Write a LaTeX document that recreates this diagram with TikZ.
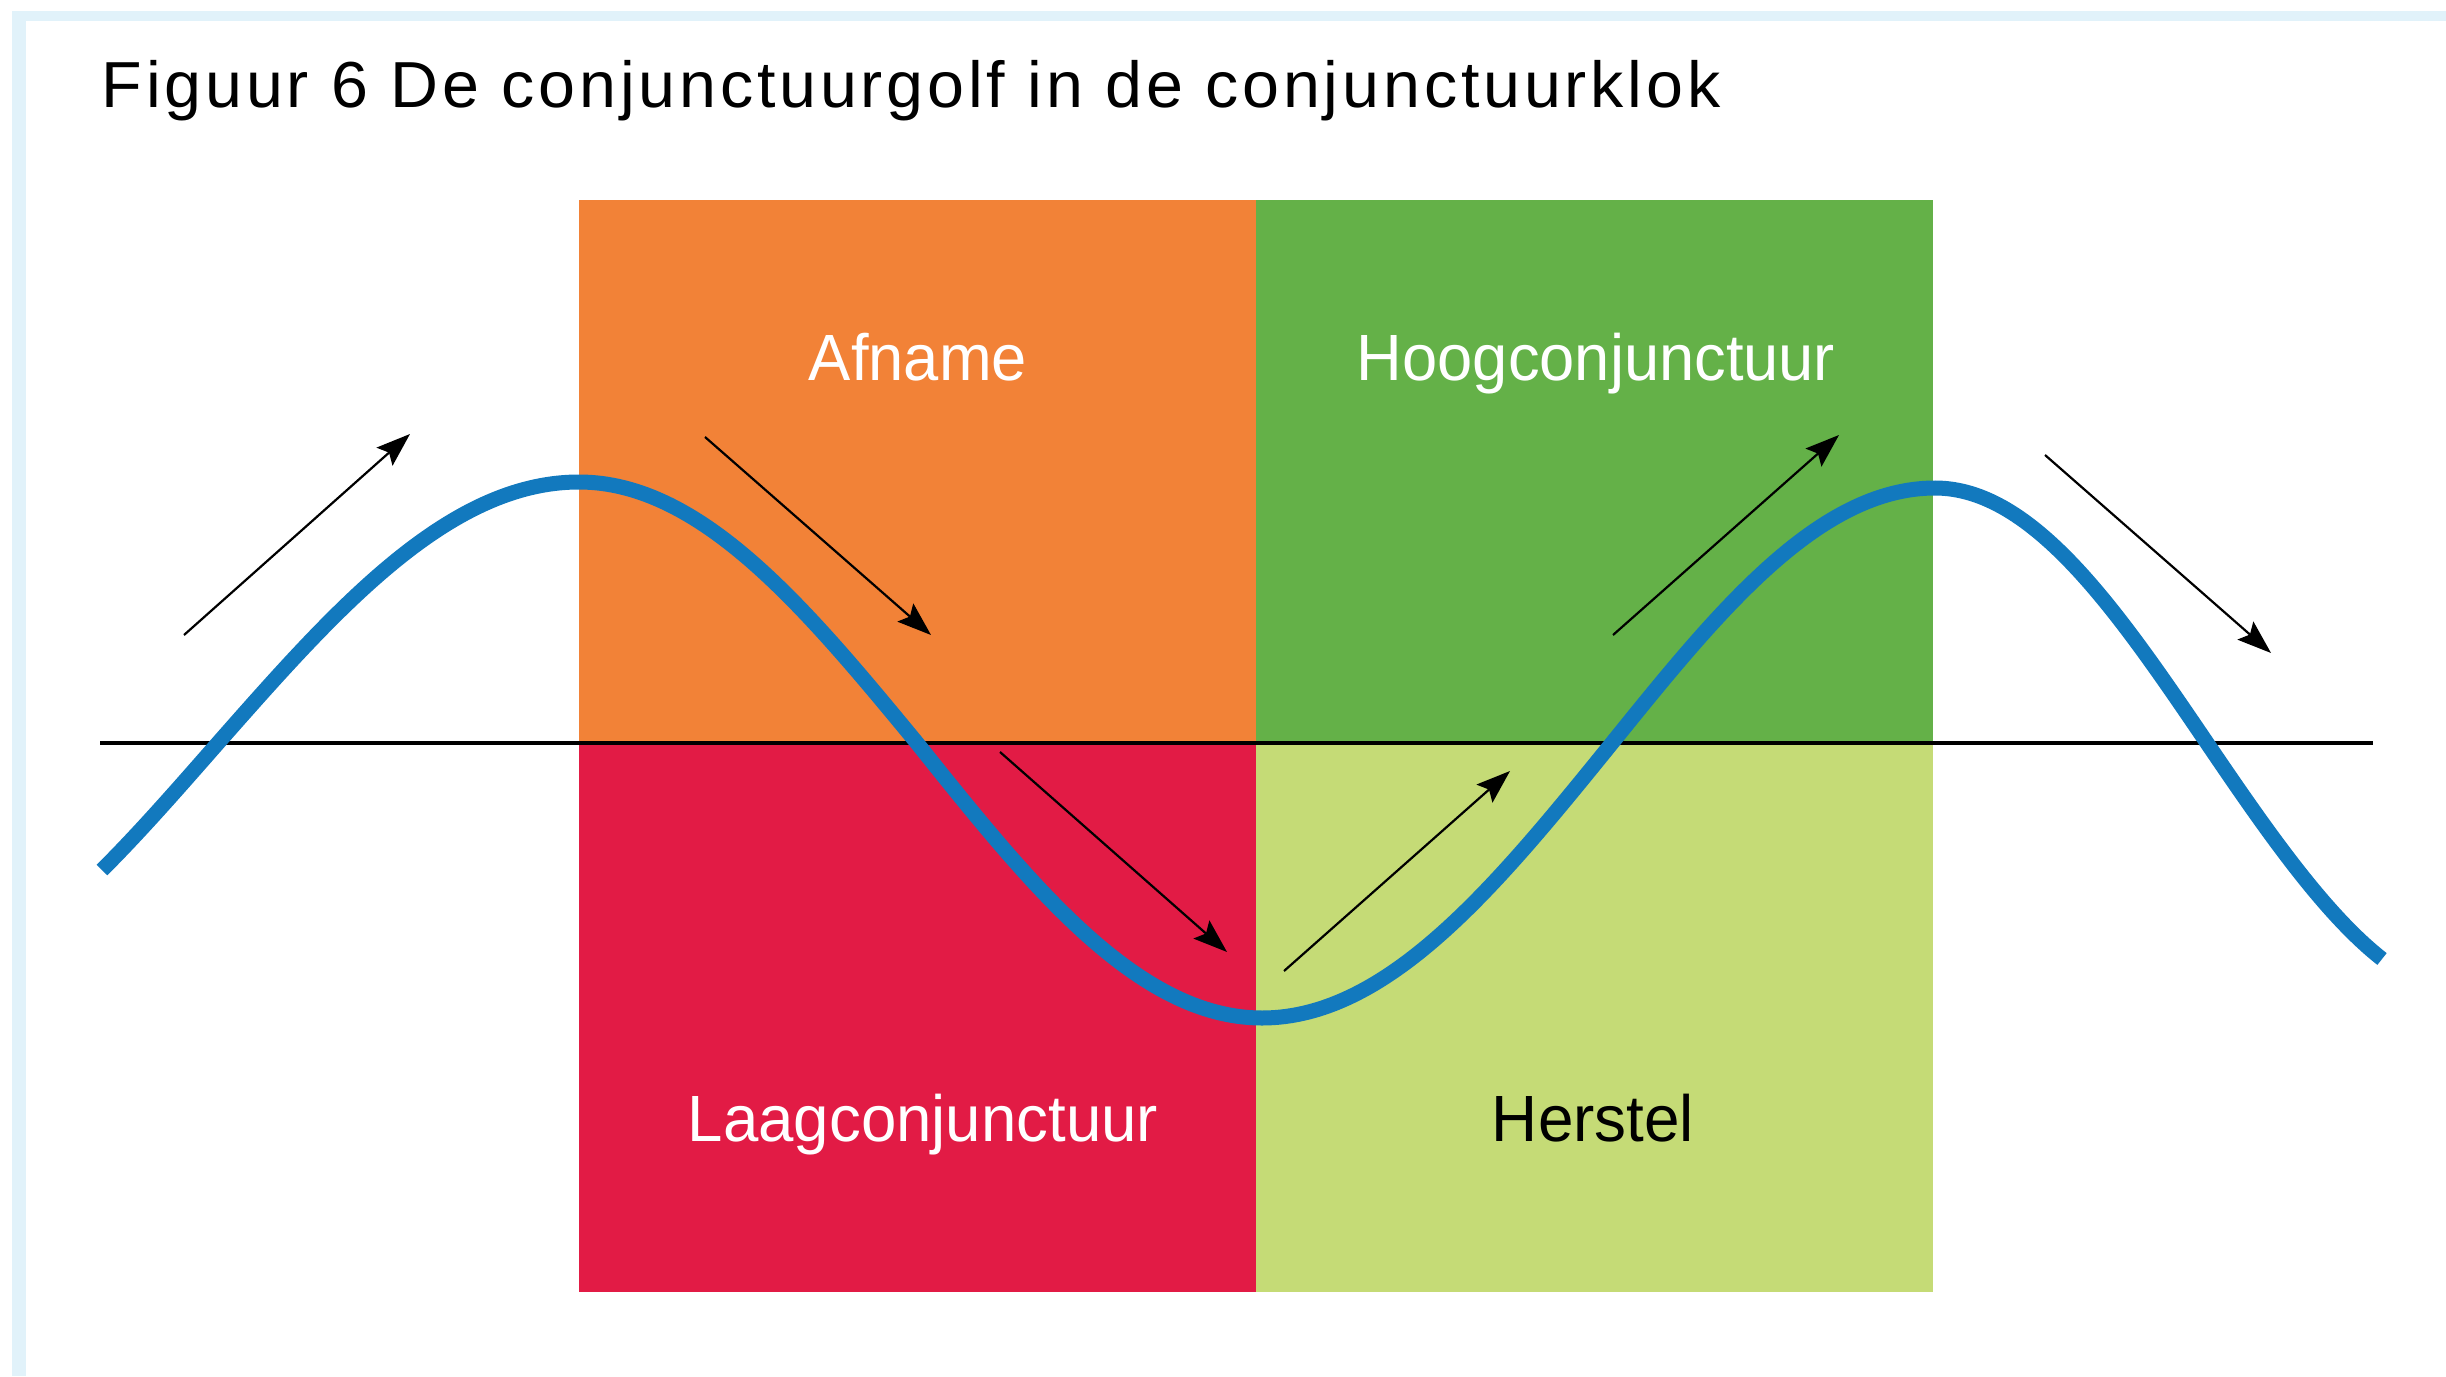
\documentclass[tikz,border=0pt]{standalone}
\usepackage{fontspec}
\setmainfont{Liberation Sans}
\usetikzlibrary{arrows.meta}
\definecolor{cOrange}{HTML}{F28237}
\definecolor{cGreen}{HTML}{64B148}
\definecolor{cRed}{HTML}{E21B45}
\definecolor{cLight}{HTML}{C5DB76}
\definecolor{cBlue}{HTML}{1279BE}
\definecolor{cFrame}{HTML}{E1F2FA}
\begin{document}
\begin{tikzpicture}[x=0.01cm,y=-0.01cm,
  arr/.style={line width=0.022cm, draw=black, -{Stealth[length=0.34cm,width=0.24cm,inset=0.06cm]}},
  lbl/.style={inner sep=0pt, anchor=base, font=\fontsize{18.6}{22}\selectfont},
  wave/.style={line width=0.15cm, draw=cBlue},
  quad/.style={draw=none}]
\useasboundingbox (0,0) rectangle (2446,1376);
\fill[white] (0,0) rectangle (2446,1376);
% frame
\fill[cFrame] (12,11) rectangle (2446,21);
\fill[cFrame] (12,11) rectangle (26,1376);
% title
\node[anchor=base west, inner sep=0pt, font=\fontsize{18.5}{22}\selectfont] (title) at (101,108)
  {\resizebox{16.18cm}{\height}{\addfontfeature{LetterSpace=5.8}Figuur 6 De conjunctuurgolf in de conjunctuurklok}};
% quadrants
\fill[cOrange] (579,200) rectangle (1256,743);
\fill[cGreen] (1256,200) rectangle (1933,743);
\fill[cRed] (579,743) rectangle (1256,1292);
\fill[cLight] (1256,743) rectangle (1933,1292);
\node[lbl, text=white] (afname) at (918,380) {\resizebox{2.18cm}{\height}{Afname}};
\node[lbl, text=white] (hoog) at (1596,380) {\resizebox{4.78cm}{\height}{Hoogconjunctuur}};
\node[lbl, text=white] (laag) at (923,1141) {\resizebox{4.70cm}{\height}{Laagconjunctuur}};
\node[lbl, text=black] (herstel) at (1593,1141) {\resizebox{2.02cm}{\height}{Herstel}};
% axis
\coordinate (axL) at (100,743);
\coordinate (axR) at (2373,743);
\draw[line width=0.04cm, black] (axL) -- (axR);
% wave
\coordinate (w0) at (102,870);
\coordinate (w1) at (218,743);
\coordinate (w2) at (579,482);
\coordinate (w3) at (917,743);
\coordinate (w4) at (1262,1018);
\coordinate (w5) at (1612,743);
\coordinate (w6) at (1935,488);
\coordinate (w7) at (2207,743);
\coordinate (w8) at (2382,959);
\draw[wave] (w0) .. controls (140.7,831.4) and (179.3,787.1) .. (w1)
  sin (w2) cos (w3) sin (w4) cos (w5) sin (w6) cos (w7)
  .. controls (2265.3,828.9) and (2323.7,913.3) .. (w8);
% arrows
\coordinate (a1s) at (184,635); \coordinate (a1e) at (410,434);
\coordinate (a2s) at (705,437); \coordinate (a2e) at (931,635);
\coordinate (a3s) at (1000,752); \coordinate (a3e) at (1227,952);
\coordinate (a4s) at (1284,971); \coordinate (a4e) at (1510,771);
\coordinate (a5s) at (1613,635); \coordinate (a5e) at (1839,435);
\coordinate (a6s) at (2045,455); \coordinate (a6e) at (2271,653);
\draw[arr] (a1s) -- (a1e);
\draw[arr] (a2s) -- (a2e);
\draw[arr] (a3s) -- (a3e);
\draw[arr] (a4s) -- (a4e);
\draw[arr] (a5s) -- (a5e);
\draw[arr] (a6s) -- (a6e);
\end{tikzpicture}
\end{document}
